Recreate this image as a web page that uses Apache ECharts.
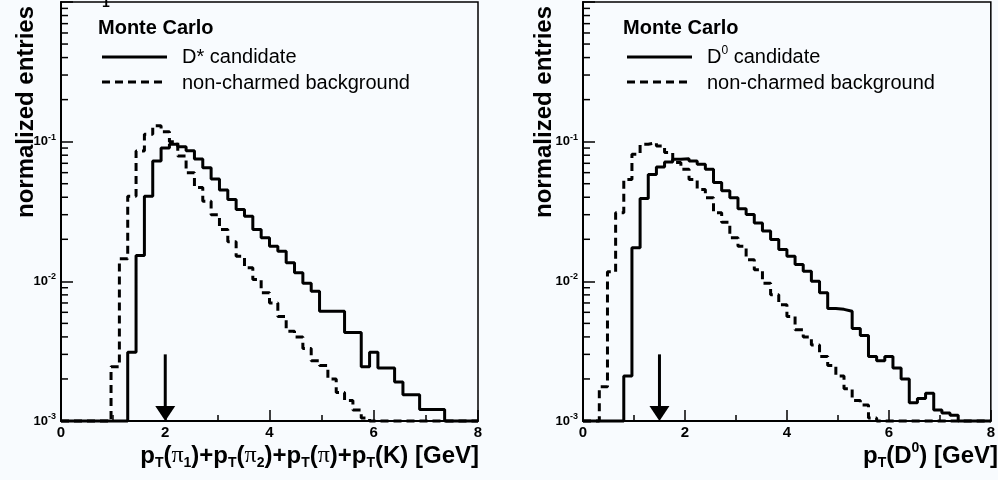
<!DOCTYPE html>
<html><head><meta charset="utf-8">
<script src="https://cdn.jsdelivr.net/npm/echarts@6/dist/echarts.min.js"></script>
<style>html,body{margin:0;padding:0;background:#f8fbfe}#c{width:998px;height:480px}</style>
</head><body><div id="c"></div>
<script>
// ---- data ----
const binEdges = [0,0.16,0.32,0.48,0.64,0.8,0.96,1.12,1.28,1.44,1.6,1.76,1.92,2.08,2.24,2.4,2.56,2.72,2.88,3.04,3.2,3.36,3.52,3.68,3.84,4,4.16,4.32,4.48,4.64,4.8,4.96,5.12,5.28,5.44,5.6,5.76,5.92,6.08,6.24,6.4,6.56,6.72,6.88,7.04,7.2,7.36,7.52,7.68,7.84,8];
const leftDstar = [0,0,0,0,0,0,0,0,0.0031,0.0153,0.0407,0.0726,0.090,0.096,0.092,0.086,0.075,0.065,0.054,0.045,0.0386,0.0327,0.0293,0.0235,0.0205,0.0178,0.0164,0.0136,0.0115,0.0097,0.0085,0.0061,0.0061,0.0061,0.0043,0.0043,0.00245,0.0031,0.0024,0.0024,0.0019,0.00154,0.00154,0.00121,0.00121,0.00121,0,0,0,0];
const leftBkg = [0,0,0,0,0,0,0.00245,0.0145,0.0407,0.0857,0.113,0.130,0.118,0.100,0.079,0.060,0.047,0.0375,0.030,0.0235,0.0192,0.0151,0.0125,0.0103,0.0083,0.0070,0.0056,0.0044,0.0040,0.0033,0.0027,0.0025,0.0020,0.0016,0.0014,0.0012,0.00105,0,0,0,0,0,0,0,0,0,0,0,0,0];
const rightD0 = [0,0,0,0,0,0.0021,0.0174,0.0392,0.0583,0.0659,0.0715,0.0748,0.0756,0.0726,0.0689,0.0634,0.051,0.0445,0.0397,0.0331,0.0301,0.0262,0.0229,0.0199,0.0169,0.0151,0.0132,0.0118,0.0100,0.0083,0.0064,0.0063,0.0061,0.0046,0.0041,0.0029,0.0027,0.0029,0.0024,0.0020,0.00135,0.00145,0.00158,0.0012,0.00114,0.0011,0,0,0,0];
const rightBkg = [0,0,0.00176,0.0117,0.031,0.0537,0.0812,0.0958,0.0985,0.0931,0.0835,0.0708,0.0634,0.0537,0.0455,0.0397,0.031,0.0265,0.0205,0.0178,0.0143,0.0121,0.0097,0.0080,0.0068,0.0056,0.0045,0.0040,0.0035,0.0029,0.0025,0.0021,0.0017,0.0014,0.0013,0.00105,0,0,0,0,0,0,0,0,0,0,0,0,0,0];
const xTicks = [0,2,4,6,8];
const cutLeft = [2];     // arrow position, left panel
const cutRight = [1.5];  // arrow position, right panel
const arrowTop = 0.003;
const YMIN = 0.001, YMAX = 1;

// ---- helpers ----
const FONT = "'Liberation Sans', Arial, Helvetica, sans-serif";
function hist(vals){
  const d = vals.map((v,i)=>[binEdges[i], Math.max(v, YMIN)]);
  d.push([binEdges[binEdges.length-1], Math.max(vals[vals.length-1], YMIN)]);
  return d;
}
const minorVals = [];
for (let e=-3; e<0; e++) for (let m=2; m<=9; m++) minorVals.push(m*Math.pow(10,e));

function xAx(gi){
  return {gridIndex:gi, type:'value', min:0, max:8, interval:2,
    axisLine:{show:true, lineStyle:{color:'#000', width:2}},
    axisTick:{show:true, inside:true, length:11, lineStyle:{color:'#000', width:1.5}},
    minorTick:{show:true, splitNumber:2, length:6, lineStyle:{color:'#000', width:1.5}},
    splitLine:{show:false},
    axisLabel:{color:'#000', fontFamily:FONT, fontWeight:'bold', fontSize:15, margin:4,
      formatter: v => xTicks.indexOf(v) >= 0 ? String(v) : ''}
  };
}
function yAx(gi){
  return {gridIndex:gi, type:'log', logBase:10, min:YMIN, max:YMAX,
    axisLine:{show:true, lineStyle:{color:'#000', width:2}},
    axisTick:{show:true, inside:true, length:12, lineStyle:{color:'#000', width:1.5}},
    splitLine:{show:false},
    axisLabel:{color:'#000', margin:5,
      formatter: v => { const e = Math.round(Math.log10(v)); return e===0 ? '' : '{b|10}{s|'+e+'}'; },
      rich:{ b:{fontFamily:FONT, fontWeight:'bold', fontSize:13, color:'#000'},
             s:{fontFamily:FONT, fontWeight:'bold', fontSize:9, color:'#000', padding:[0,0,9,0]} }
    }
  };
}
function lineSeries(gi, vals, dashed){
  return {type:'line', xAxisIndex:gi, yAxisIndex:gi, step:'end', showSymbol:false, symbol:'none',
    clip:false, silent:true, animation:false,
    lineStyle:{color:'#000', width:3, type: dashed ? [8,5] : 'solid'},
    data: hist(vals)};
}
function minorSeries(gi){
  return {type:'custom', xAxisIndex:gi, yAxisIndex:gi, silent:true, clip:false,
    data: minorVals.map(v=>[0,v]),
    renderItem:(params, api)=>{
      const p = api.coord([0, api.value(1)]);
      return {type:'line', shape:{x1:p[0], y1:p[1], x2:p[0]+7, y2:p[1]}, style:{stroke:'#000', lineWidth:1.5}};
    }};
}
function arrowSeries(gi, xs){
  return {type:'custom', xAxisIndex:gi, yAxisIndex:gi, silent:true, clip:false,
    data: xs.map(x=>[x, arrowTop]),
    renderItem:(params, api)=>{
      const top = api.coord([api.value(0), api.value(1)]);
      const tip = api.coord([api.value(0), YMIN]);
      return {type:'group', children:[
        {type:'line', shape:{x1:top[0], y1:top[1], x2:tip[0], y2:tip[1]-12}, style:{stroke:'#000', lineWidth:3}},
        {type:'polygon', shape:{points:[[tip[0]-10, tip[1]-15],[tip[0]+10, tip[1]-15],[tip[0], tip[1]]]}, style:{fill:'#000'}}
      ]};
    }};
}

const subRich = {
  m:{fontFamily:FONT, fontWeight:'bold', fontSize:24, color:'#000'},
  t:{fontFamily:FONT, fontWeight:'bold', fontSize:14, color:'#000', padding:[14,0,0,0]},
  p:{fontFamily:"'Liberation Serif', 'DejaVu Serif', serif", fontSize:24, color:'#000'},
  n:{fontFamily:FONT, fontWeight:'bold', fontSize:14, color:'#000', padding:[14,0,0,0]},
  u:{fontFamily:FONT, fontWeight:'bold', fontSize:14, color:'#000', padding:[0,0,16,0]},
  r:{fontFamily:FONT, fontSize:20, color:'#000'},
  ru:{fontFamily:FONT, fontSize:12, color:'#000', padding:[0,0,12,0]}
};

function legend(x0, label){
  return [
    {type:'text', left:x0-4, top:18, style:{text:'Monte Carlo', font:"bold 20px "+FONT, fill:'#000'}},
    {type:'line', shape:{x1:x0, y1:57, x2:x0+65, y2:57}, style:{stroke:'#000', lineWidth:3}},
    {type:'text', x:x0+80, y:57, style:{text:label, rich:subRich, verticalAlign:'middle', textVerticalAlign:'middle'}},
    {type:'line', shape:{x1:x0, y1:82, x2:x0+65, y2:82}, style:{stroke:'#000', lineWidth:3, lineDash:[8,5]}},
    {type:'text', x:x0+80, y:83, style:{text:'non-charmed background', font:"20px "+FONT, fill:'#000', textVerticalAlign:'middle'}}
  ];
}

const chart = echarts.init(document.getElementById('c'), null, {renderer:'canvas'});
chart.setOption({
  backgroundColor:'#f8fbfe',
  animation:false,
  grid:[
    {left:61, top:2, width:417, height:419, show:true, borderColor:'#000', borderWidth:1.5, backgroundColor:'transparent'},
    {left:583, top:2, width:416, height:419, show:true, borderColor:'#000', borderWidth:1.5, backgroundColor:'transparent'}
  ],
  xAxis:[xAx(0), xAx(1)],
  yAxis:[yAx(0), yAx(1)],
  series:[
    minorSeries(0), minorSeries(1),
    lineSeries(0, leftBkg, true), lineSeries(0, leftDstar, false),
    lineSeries(1, rightBkg, true), lineSeries(1, rightD0, false),
    arrowSeries(0, cutLeft), arrowSeries(1, cutRight)
  ],
  graphic:[
    {type:'text', x:26, y:112, rotation:Math.PI/2, style:{text:'normalized entries', font:"bold 24px "+FONT, fill:'#000', textAlign:'center', textVerticalAlign:'middle'}},
    {type:'text', x:544, y:112, rotation:Math.PI/2, style:{text:'normalized entries', font:"bold 24px "+FONT, fill:'#000', textAlign:'center', textVerticalAlign:'middle'}},
    {type:'text', x:106, y:-4, style:{text:'1', font:"bold 14px "+FONT, fill:'#000', textAlign:'center'}},
    ...legend(102, '{r|D* candidate}'),
    ...legend(627, '{r|D}{ru|0}{r| candidate}'),
    {type:'text', x:479, y:456, style:{text:'{m|p}{t|T}{m|(}{p|π}{n|1}{m|)+p}{t|T}{m|(}{p|π}{n|2}{m|)+p}{t|T}{m|(}{p|π}{m|)+p}{t|T}{m|(K) [GeV]}', rich:subRich, textAlign:'right', textVerticalAlign:'middle'}},
    {type:'text', x:998, y:456, style:{text:'{m|p}{t|T}{m|(D}{u|0}{m|) [GeV]}', rich:subRich, textAlign:'right', textVerticalAlign:'middle'}}
  ]
});
</script></body></html>
